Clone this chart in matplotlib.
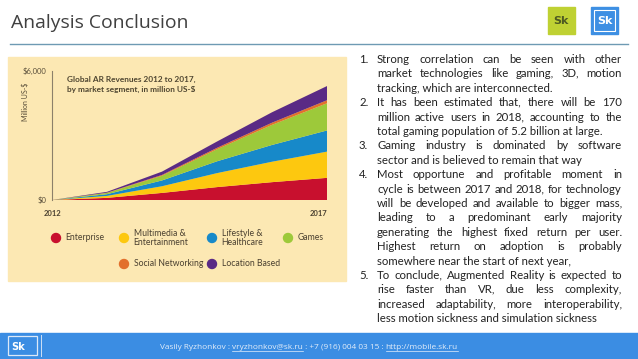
import math
import matplotlib
matplotlib.use('Agg')
import matplotlib.pyplot as plt
from matplotlib.patches import Rectangle, Circle
from matplotlib.font_manager import FontProperties

# Global AR revenues, million US-$
years = [2012, 2013, 2014, 2015, 2016, 2017]
enterprise = [0, 100, 330, 600, 830, 1030]
multimedia = [0, 90, 310, 650, 950, 1220]
lifestyle = [0, 80, 270, 550, 780, 985]
games = [0, 60, 220, 560, 935, 1265]
social = [0, 10, 35, 65, 100, 140]
location = [0, 40, 155, 295, 485, 660]

seg_names = ['Enterprise', 'Multimedia &\nEntertainment', 'Lifestyle &\nHealthcare',
             'Games', 'Social Networking', 'Location Based']
seg_colors = ['#c8102e', '#fdc80f', '#1789c9', '#9dc93a', '#e2702c', '#5a2a85']

paragraphs = [
    ["Strong correlation can be seen with other",
     "market technologies like gaming, 3D, motion",
     "tracking, which are interconnected."],
    ["It has been estimated that, there will be 170",
     "million active users in 2018, accounting to the",
     "total gaming population of 5.2 billion at large."],
    ["Gaming industry is dominated by software",
     "sector and is believed to remain that way"],
    ["Most opportune and profitable moment in",
     "cycle is between 2017 and 2018, for technology",
     "will be developed and available to bigger mass,",
     "leading to a predominant early majority",
     "generating the highest fixed return per user.",
     "Highest return on adoption is probably",
     "somewhere near the start of next year,"],
    ["To conclude, Augmented Reality is expected to",
     "rise faster than VR, due less complexity,",
     "increased adaptability, more interoperability,",
     "less motion sickness and simulation sickness"],
]

footer_parts = [("Vasily Ryzhonkov : ", False), ("vryzhonkov@sk.ru", True),
                (" : +7 (916) 004 03 15 : ", False), ("http://mobile.sk.ru", True)]

W, H = 638, 359
fig = plt.figure(figsize=(W / 100, H / 100), dpi=100)
fig.patch.set_facecolor('white')
bg = fig.add_axes([0, 0, 1, 1])
bg.set_xlim(0, W)
bg.set_ylim(H, 0)
bg.axis('off')
renderer = fig.canvas.get_renderer()


def text_w(s, **kw):
    t = bg.text(0, 0, s, **kw)
    w = t.get_window_extent(renderer).width
    t.remove()
    return w


def fit_size(s, target, **kw):
    return 10 * target / text_w(s, fontsize=10, **kw)


def frac(x0, y0, x1, y1):
    return [x0 / W, 1 - y1 / H, (x1 - x0) / W, (y1 - y0) / H]


# header
fs = fit_size("Analysis Conclusion", 178, family='Open Sans')
bg.text(11, 28, "Analysis Conclusion", fontsize=fs, family='Open Sans', color='#404040', va='baseline')
bg.plot([10, 628], [44, 44], color='#6e9ab3', lw=1)
bg.add_patch(Rectangle((548, 7), 27, 27, color='#bfd133'))
bg.text(553, 24, "Sk", fontsize=8, weight='bold', color='#4e5a22', family='DejaVu Sans', va='baseline')
bg.add_patch(Rectangle((591, 7), 27, 27, color='#3d8fe3'))
bg.add_patch(Rectangle((594, 10), 21, 21, fill=False, ec='white', lw=0.8))
bg.text(597, 24, "Sk", fontsize=8, weight='bold', color='white', family='DejaVu Sans', va='baseline')

# chart panel
bg.add_patch(Rectangle((8, 57), 338, 224, color='#fce8b3', zorder=0))

ax = fig.add_axes(frac(52, 71, 327, 200))
ax.set_facecolor('none')
ax.stackplot(years, enterprise, multimedia, lifestyle, games, social, location,
             colors=seg_colors, linewidth=0)
ax.set_xlim(2012, 2017)
ax.set_ylim(0, 6000)
for s in ['top', 'right', 'bottom']:
    ax.spines[s].set_visible(False)
ax.spines['left'].set_color('#8c806a')
ax.spines['left'].set_linewidth(0.8)
ax.set_yticks([0, 6000])
ax.set_yticklabels(['\\$0', '\\$6,000'], family='Lato', fontsize=5.5, color='#5a4f3a')
ax.set_xticks([2012, 2017])
ax.set_xticklabels(['2012', '2017'], family='Lato', fontsize=5.5, weight='bold', color='#4a4030')
ax.get_xticklabels()[1].set_ha('right')
ax.tick_params(length=0, pad=4)
ax.tick_params(axis='x', pad=7)
ax.set_ylabel('Million US-\\$', family='Lato', fontsize=5, color='#5a4f3a')
ax.yaxis.set_label_coords(-0.085, 0.76)

ct_fs = fit_size("Global AR Revenues 2012 to 2017,", 129, family='Lato', weight='bold')
bg.text(67, 79, "Global AR Revenues 2012 to 2017,", fontsize=ct_fs, family='Lato',
        weight='bold', color='#4f4631', va='center')
bg.text(67, 89.5, "by market segment, in million US-\\$", fontsize=ct_fs, family='Lato',
        weight='bold', color='#4f4631', va='center')

# legend
leg_xy = [(56, 238), (124, 238), (212, 238), (288, 238), (124, 264), (212, 264)]
for (cx, cy), name, col in zip(leg_xy, seg_names, seg_colors):
    bg.add_patch(Circle((cx, cy), 4.5, color=col))
    bg.text(cx + 9.5, cy, name, fontsize=6.2, family='Lato', color='#4a4030',
            va='center', linespacing=1.05)

# numbered text column, justified word by word
x_num, x0, x1 = 359, 377, 622
justified = [ln for p in paragraphs for ln in p[:-1]]
body_fs = min(fit_size("total gaming population of 5.2 billion at large.", 236, family='Lato'),
              min(fit_size(ln, x1 - x0 - 4, family='Lato') for ln in justified))
prop = FontProperties(family='Lato', size=body_fs)
kw = dict(fontsize=body_fs, family='Lato', color='#222222', va='baseline')


def put(x, yb, s):
    # agg snaps each string's bitmap on its own; shift so all words share one pixel baseline
    _, h, d = renderer.get_text_width_height_descent(s, prop, ismath=False)
    a = h - d
    corr = math.trunc(a + d) - math.floor(a) - d
    return bg.text(x, yb + corr, s, **kw)


y = 63.0
for i, para in enumerate(paragraphs):
    for j, line in enumerate(para):
        yb = round(y)
        if j == 0:
            put(x_num, yb, f"{i + 1}.")
        if j == len(para) - 1:
            put(x0, yb, line)
        else:
            words = line.split()
            arts = [put(0, yb, w) for w in words]
            ws = [a.get_window_extent(renderer).width for a in arts]
            gap = (x1 - x0 - sum(ws)) / (len(words) - 1)
            xx = x0
            for a, w in zip(arts, ws):
                a.set_x(xx)
                xx += w + gap
        y += 14.4

# footer
bg.add_patch(Rectangle((0, 333), W, 26, color='#3b8de3'))
bg.add_patch(Rectangle((8, 336), 29, 19, fill=False, ec='#dce9f8', lw=0.9))
bg.text(11, 350, "Sk", fontsize=7, weight='bold', color='white', family='DejaVu Sans', va='baseline')
bg.plot([41, 41], [335, 356], color='#cfe0f5', lw=0.7)
full = ''.join(p for p, _ in footer_parts)
ft_fs = fit_size(full, 298, family='Open Sans')
xx = 160
for part, under in footer_parts:
    t = bg.text(xx, 349, part, fontsize=ft_fs, family='Open Sans', color='#e4eefa', va='baseline')
    w = t.get_window_extent(renderer).width
    if under:
        bg.plot([xx, xx + w], [350.5, 350.5], color='#e4eefa', lw=0.5)
    xx += w

fig.savefig('out.png', dpi=100)
